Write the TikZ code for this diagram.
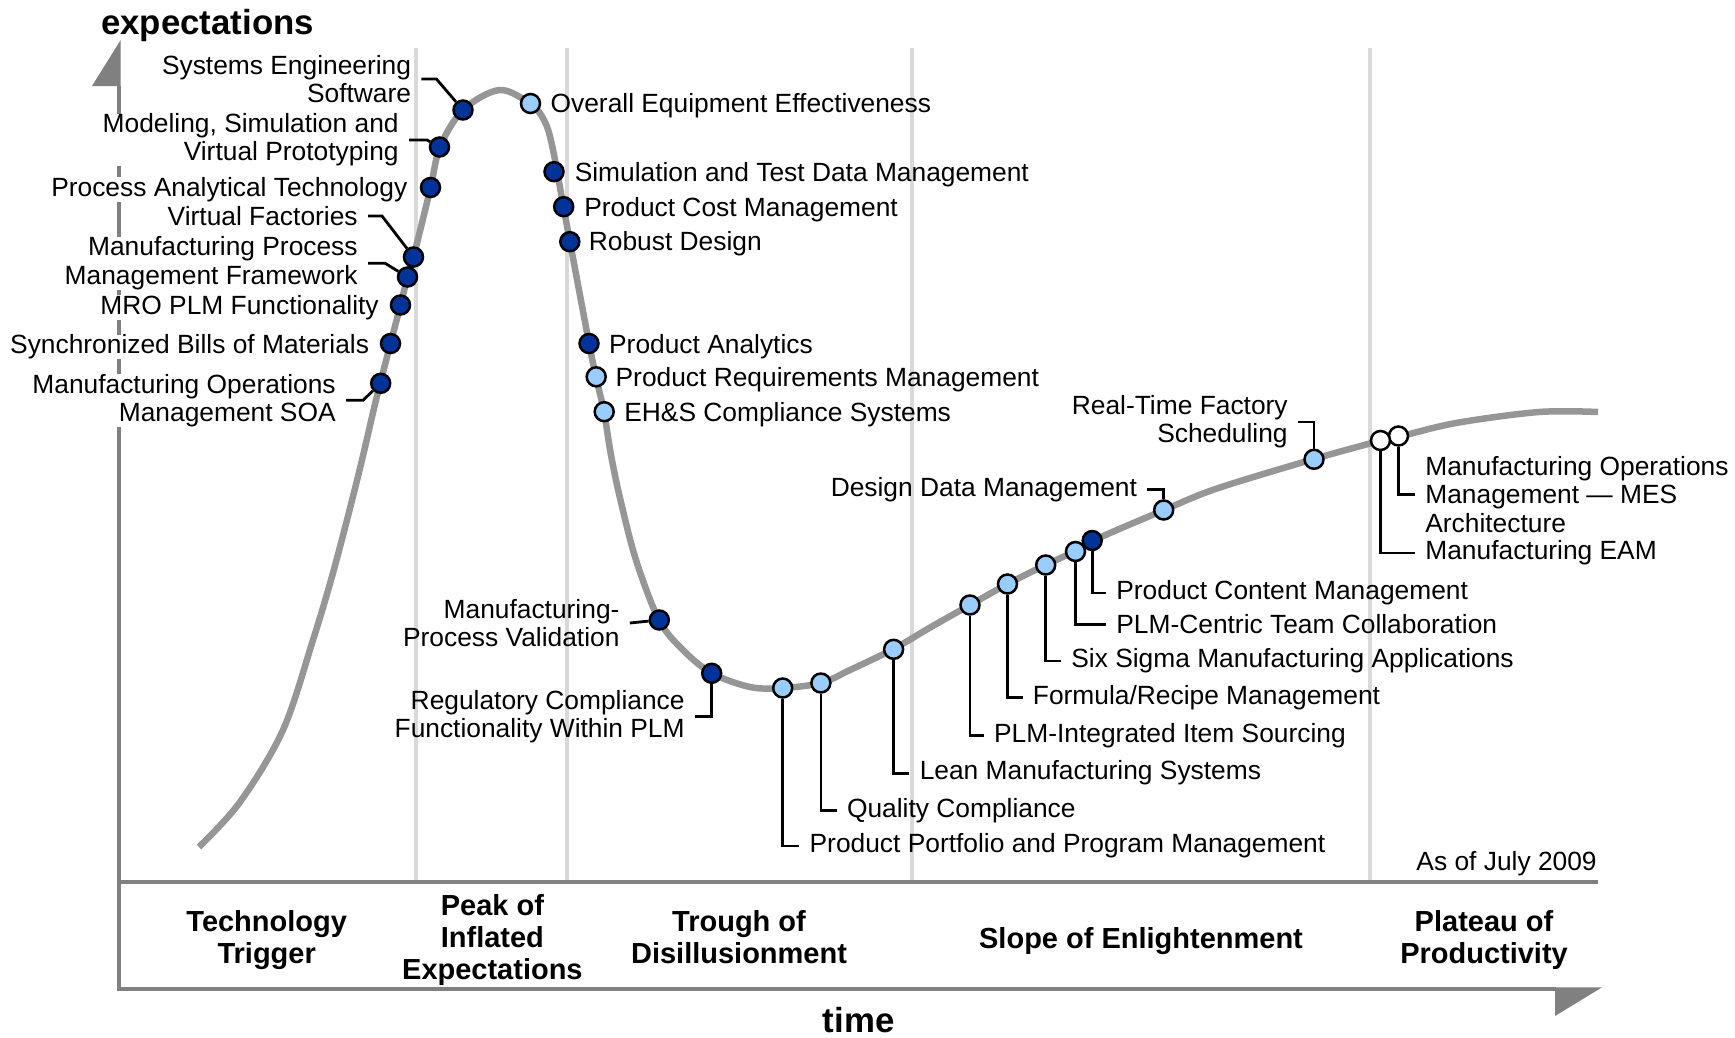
\documentclass[tikz,border=0pt]{standalone}
\usepackage{fontspec}
\setmainfont{Liberation Sans}
\usepackage{tikz}

\definecolor{dotdark}{RGB}{0,51,153}
\definecolor{dotlight}{RGB}{153,204,255}
\definecolor{curvegray}{RGB}{150,150,150}
\definecolor{sepgray}{RGB}{217,217,217}
\definecolor{axisgray}{RGB}{128,128,128}

\begin{document}
\begin{tikzpicture}[x=0.02cm, y=-0.02cm,
    lbl/.style={inner xsep=0.2cm, inner ysep=0pt, shift={(0,2.5)}, font=\fontsize{15}{16}\selectfont},
    leftlbl/.style={lbl, fill=white, anchor=east, align=right},
    phase/.style={align=center, inner sep=0pt, font=\fontsize{16.5}{18.2}\selectfont\bfseries},
    axlbl/.style={inner sep=0pt, font=\fontsize{19.8}{22}\selectfont\bfseries},
    hcurve/.style={curvegray, line width=0.13cm, line join=round},
    sepline/.style={sepgray, line width=0.08cm},
    axline/.style={axisgray, line width=0.068cm},
    leader/.style={black, line width=0.056cm},
    hdot/.style={circle, draw=black, line width=0.05cm, minimum size=0.38cm, inner sep=0pt},
    dkdot/.style={hdot, fill=dotdark},
    ltdot/.style={hdot, fill=dotlight},
    wtdot/.style={hdot, fill=white}]
    \useasboundingbox (0,0) rectangle (1735,1038);

    % Axes and phase box
    \fill[axisgray] (92,86) -- (120.7,86) -- (120.7,40) -- cycle;
    \draw[axline] (119,86) -- (119,989) -- (1556,989);
    \fill[axisgray] (1555,987.3) -- (1602,987.3) -- (1555,1016) -- cycle;
    \draw[axline] (119,882) -- (1598,882);
    \node[axlbl] (ylab) at (207.6,25.5) {expectations};
    \node[axlbl] (xlab) at (858.7,1020) {time};
    \node[lbl, anchor=base east] (asof) at (1607,868.2) {As of July 2009};

    % Phases
    \node[phase] (ph1) at (266.7,940) {Technology\\Trigger};
    \node[phase] (ph2) at (492.4,940) {Peak of\\Inflated\\Expectations};
    \node[phase] (ph3) at (739,937.5) {Trough of\\Disillusionment};
    \node[phase] (ph4) at (1141,941) {Slope of Enlightenment};
    \node[phase] (ph5) at (1484,940) {Plateau of\\Productivity};

    % Labels left of the peak
    \node[leftlbl] (l1) at (421.4,76.5) {Systems Engineering\\Software};
    \node[leftlbl] (l2) at (409,137.5) {Modeling, Simulation and\\Virtual Prototyping};
    \node[leftlbl] (l3) at (417.6,187) {Process Analytical Technology};
    \node[leftlbl] (l4) at (368,213.5) {Virtual Factories};
    \node[leftlbl] (l5) at (368,260.7) {Manufacturing Process\\Management Framework};
    \node[leftlbl] (l6) at (389,305) {MRO PLM Functionality};
    \node[leftlbl] (l7) at (379.4,344.5) {Synchronized Bills of Materials};
    \node[leftlbl] (l8) at (346,397.8) {Manufacturing Operations\\Management SOA};

    % Phase separators
    \foreach \sx in {415.5, 566.7, 912, 1369.5}
        \draw[sepline] (\sx,48) -- (\sx,880);

    % Labels right of the peak
    \node[lbl, anchor=west] (r1) at (540.3,103.5) {Overall Equipment Effectiveness};
    \node[lbl, anchor=west] (r2) at (564.4,171.7) {Simulation and Test Data Management};
    \node[lbl, anchor=west] (r3) at (574,206.8) {Product Cost Management};
    \node[lbl, anchor=west] (r4) at (578.5,241.5) {Robust Design};
    \node[lbl, anchor=west] (r5) at (598.8,344.5) {Product Analytics};
    \node[lbl, anchor=west] (r6) at (605.3,377) {Product Requirements Management};
    \node[lbl, anchor=west] (r7) at (614,411.7) {EH\&S Compliance Systems};

    % Trough
    \node[lbl, anchor=east, align=right] (t1) at (629.8,620.5) {Manufacturing-\\Process Validation};
    \node[lbl, anchor=east, align=right] (t2) at (695,714) {Regulatory Compliance\\Functionality Within PLM};

    % Slope and plateau
    \node[lbl, anchor=west] (s1) at (799.3,843.5) {Product Portfolio and Program Management};
    \node[lbl, anchor=west] (s2) at (836.7,808) {Quality Compliance};
    \node[lbl, anchor=west] (s3) at (909.4,770.6) {Lean Manufacturing Systems};
    \node[lbl, anchor=west] (s4) at (983.8,733) {PLM-Integrated Item Sourcing};
    \node[lbl, anchor=west] (s5) at (1022.6,695.3) {Formula/Recipe Management};
    \node[lbl, anchor=west] (s6) at (1061,658.5) {Six Sigma Manufacturing Applications};
    \node[lbl, anchor=west] (s7) at (1106,621.7) {PLM-Centric Team Collaboration};
    \node[lbl, anchor=west] (s8) at (1106,590.5) {Product Content Management};
    \node[lbl, anchor=east] (s9) at (1147.3,487) {Design Data Management};
    \node[lbl, anchor=east, align=right] (s10) at (1298,419.5) {Real-Time Factory\\Scheduling};
    \node[lbl, anchor=west, align=left] (p1) at (1415,492) {Manufacturing Operations\\Management — MES\\Architecture};
    \node[lbl, anchor=west] (p2) at (1415,550.5) {Manufacturing EAM};

    % Hype curve
    \draw[hcurve] plot[smooth, tension=0.55] coordinates {
        (199,847) (240,802) (283,730) (313,640) (331,580) (347,520) (362,460)
        (376,400) (390.5,343.5) (400.5,305) (407.5,277) (413.5,257)
        (430.5,188) (440,147) (463,110) (499.5,90) (530.5,104) (544,120)
        (552,145) (563.5,207) (570,242) (589,343) (596,377) (604,412)
        (611,455) (620,498) (636,560) (659,620) (683,650) (711.5,673) (750,687)
        (782.5,688) (821,683) (850,670) (893.5,649) (931,627) (970,605)
        (1007.5,584) (1045.5,565) (1075.5,551) (1092,541) (1164,510)
        (1217,488.5) (1314,459) (1379.5,441) (1398,437) (1456,423)
        (1539,412) (1598,412)};

    % Technologies on the curve
    \node[dkdot] (d1) at (463,110) {};
    \node[dkdot] (d2) at (439.5,147) {};
    \node[dkdot] (d3) at (430.5,187.5) {};
    \node[dkdot] (d4) at (413.5,257) {};
    \node[dkdot] (d5) at (407.5,277) {};
    \node[dkdot] (d6) at (400.5,305) {};
    \node[dkdot] (d7) at (390.5,343.5) {};
    \node[dkdot] (d8) at (380.7,383.3) {};
    \node[ltdot] (d9) at (530.5,103.5) {};
    \node[dkdot] (d10) at (554,171.7) {};
    \node[dkdot] (d11) at (563.7,206.7) {};
    \node[dkdot] (d12) at (569.8,241.7) {};
    \node[dkdot] (d13) at (589,343.5) {};
    \node[ltdot] (d14) at (596.2,376.8) {};
    \node[ltdot] (d15) at (604.2,411.7) {};
    \node[dkdot] (d16) at (659.3,620) {};
    \node[dkdot] (d17) at (711.7,673.3) {};
    \node[ltdot] (d18) at (782.7,688) {};
    \node[ltdot] (d19) at (820.9,683) {};
    \node[ltdot] (d20) at (893.6,649.3) {};
    \node[ltdot] (d21) at (970,605) {};
    \node[ltdot] (d22) at (1007.5,584) {};
    \node[ltdot] (d23) at (1045.7,565) {};
    \node[dkdot] (d25) at (1092.2,540.5) {};
    \node[ltdot] (d24) at (1075.5,551.5) {};
    \node[ltdot] (d26) at (1163.7,510) {};
    \node[ltdot] (d27) at (1314,459.3) {};
    \node[wtdot] (d29) at (1398.5,436) {};
    \node[wtdot] (d28) at (1380.5,440.5) {};

    % Leaders
    \draw[leader] (l1.east) -- ++(15,0) -- (d1);
    \draw[leader] (l2.east) -- ++(18,0) -- (d2);
    \draw[leader] (l4.east) -- ++(14,0) -- (d4);
    \draw[leader] (l5.east) -- ++(17,0) -- (d5);
    \draw[leader] (l8.east) -- ++(17,0) -- (d8);
    \draw[leader] (t1.east) -- (d16);
    \draw[leader] (d17) |- (t2.east);
    \foreach \a/\b in {18/1, 19/2, 20/3, 21/4, 22/5, 23/6, 24/7, 25/8}
        \draw[leader] (d\a) |- (s\b.west);
    \draw[leader] (s9.east) -| (d26);
    \draw[leader] (s10.east) -| (d27);
    \draw[leader] (d29) |- (p1.west);
    \draw[leader] (d28) |- (p2.west);
\end{tikzpicture}
\end{document}
